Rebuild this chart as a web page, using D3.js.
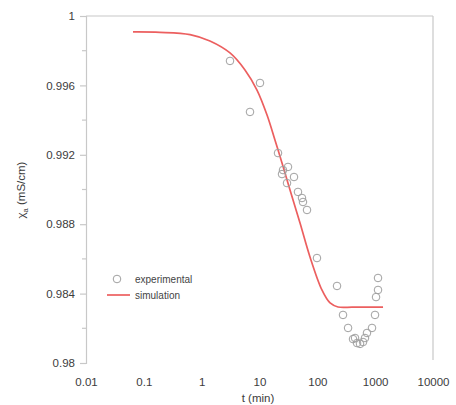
<!DOCTYPE html>
<html>
<head>
<meta charset="utf-8">
<script src="https://cdn.jsdelivr.net/npm/d3@7"></script>
<style>
  html, body { margin: 0; padding: 0; background: #fff; }
  svg { display: block; }
  text { font-family: "Liberation Sans", Arial, sans-serif; }
</style>
</head>
<body>
<svg id="chart" width="456" height="405"></svg>
<script>
// Conductivity vs time: measured points and simulated curve
const expTime = [3.09, 10.2, 6.85, 20.9, 25.5, 31.1, 24.5, 39.5, 29.9, 46.3, 54.3, 56.5, 66.3,
                 98.6, 219, 278, 340, 414, 486, 547, 449, 617, 667, 722, 882, 994, 1035, 1120, 1120];
const expValue = [0.99741, 0.99614, 0.99447, 0.99210, 0.99112, 0.99130, 0.99089, 0.99072, 0.99037,
                  0.98986, 0.98951, 0.98928, 0.98882, 0.98605, 0.98444, 0.98277, 0.98202, 0.98138,
                  0.98115, 0.98110, 0.98144, 0.98121, 0.98144, 0.98173, 0.98202, 0.98277, 0.98380,
                  0.98421, 0.98490];

const simTime = [0.065, 0.19, 0.63, 1.39, 3.09, 5.61, 9.05, 13.5, 18.5, 24.5, 33.7, 50.2, 74.7,
                 120, 166, 228, 400, 800, 1368];
const simValue = [0.99908, 0.99906, 0.99893, 0.99856, 0.99787, 0.99689, 0.99573, 0.99429, 0.99285,
                  0.99153, 0.98997, 0.98807, 0.98611, 0.98421, 0.98346, 0.98323, 0.98322, 0.98322,
                  0.98322];

const xTicks = [0.01, 0.1, 1, 10, 100, 1000, 10000];
const xTickLabels = ["0.01", "0.1", "1", "10", "100", "1000", "10000"];
const yTicks = [0.98, 0.984, 0.988, 0.992, 0.996, 1];
const yTickLabels = ["0.98", "0.984", "0.988", "0.992", "0.996", "1"];
const yMinorTicks = [0.982, 0.986, 0.990, 0.994, 0.998];

const plotLeft = 86, plotRight = 433, plotTop = 16, plotBottom = 363;

const svg = d3.select("#chart");
const x = d3.scaleLog().domain([0.01, 10000]).range([plotLeft, plotRight]);
const y = d3.scaleLinear().domain([0.98, 1]).range([plotBottom, plotTop]);

const axisColor = "#c8c8c8";
const labelColor = "#3c3c3c";

// frame: top and right borders
svg.append("line").attr("x1", plotLeft).attr("x2", plotRight).attr("y1", plotTop).attr("y2", plotTop)
  .attr("stroke", axisColor).attr("stroke-width", 1.2);
svg.append("line").attr("x1", plotRight).attr("x2", plotRight).attr("y1", plotTop).attr("y2", plotBottom - 3)
  .attr("stroke", axisColor).attr("stroke-width", 1.2);

// y axis
const yAxis = d3.axisLeft(y).tickValues(yTicks)
  .tickFormat((d, i) => yTickLabels[i]).tickSize(6).tickPadding(5);
const gy = svg.append("g").attr("transform", `translate(${plotLeft},0)`).call(yAxis);
gy.select(".domain").attr("stroke", axisColor).attr("stroke-width", 1.2);
gy.selectAll(".tick line").attr("stroke", axisColor).attr("stroke-width", 1.2);
gy.selectAll(".tick text").attr("fill", labelColor).attr("font-size", 11.5)
  .attr("font-family", "'Liberation Sans', Arial, sans-serif");
gy.selectAll(".minor").data(yMinorTicks).enter().append("line")
  .attr("x1", -4).attr("x2", 0).attr("y1", d => y(d)).attr("y2", d => y(d))
  .attr("stroke", axisColor).attr("stroke-width", 1.2);

// x axis labels (no axis line)
const xAxis = d3.axisBottom(x).tickValues(xTicks)
  .tickFormat((d, i) => xTickLabels[i]).tickSize(0).tickPadding(15);
const gx = svg.append("g").attr("transform", `translate(0,${plotBottom})`).call(xAxis);
gx.select(".domain").remove();
gx.selectAll(".tick text").attr("fill", labelColor).attr("font-size", 11.5)
  .attr("font-family", "'Liberation Sans', Arial, sans-serif");

// axis titles
svg.append("text").attr("x", 258).attr("y", 402).attr("text-anchor", "middle")
  .attr("font-size", 11.5).attr("fill", labelColor).text("t (min)");
const yt = svg.append("text").attr("transform", "translate(25,190) rotate(-90)")
  .attr("text-anchor", "middle").attr("font-size", 11.5).attr("fill", labelColor);
yt.append("tspan").text("χ");
yt.append("tspan").attr("font-size", 7.5).attr("dy", 3).text("a");
yt.append("tspan").attr("dy", -3).text(" (mS/cm)");

// simulated curve
const line = d3.line().x(d => x(d[0])).y(d => y(d[1])).curve(d3.curveCatmullRom.alpha(0.5));
svg.append("path").datum(d3.zip(simTime, simValue)).attr("d", line)
  .attr("fill", "none").attr("stroke", "#ec5f5f").attr("stroke-width", 1.7);

// measured points
svg.selectAll(".pt").data(d3.zip(expTime, expValue)).enter().append("circle")
  .attr("cx", d => x(d[0])).attr("cy", d => y(d[1])).attr("r", 3.8)
  .attr("fill", "none").attr("stroke", "#a0a0a0").attr("stroke-width", 1);

// legend
const lg = svg.append("g");
lg.append("circle").attr("cx", 117).attr("cy", 279).attr("r", 3.8)
  .attr("fill", "none").attr("stroke", "#a0a0a0").attr("stroke-width", 1);
lg.append("text").attr("x", 135).attr("y", 282.5).attr("font-size", 10)
  .attr("fill", "#444").text("experimental");
lg.append("line").attr("x1", 107).attr("x2", 130).attr("y1", 295).attr("y2", 295)
  .attr("stroke", "#ec5f5f").attr("stroke-width", 1.7);
lg.append("text").attr("x", 135).attr("y", 298.5).attr("font-size", 10)
  .attr("fill", "#444").text("simulation");
</script>
</body>
</html>
